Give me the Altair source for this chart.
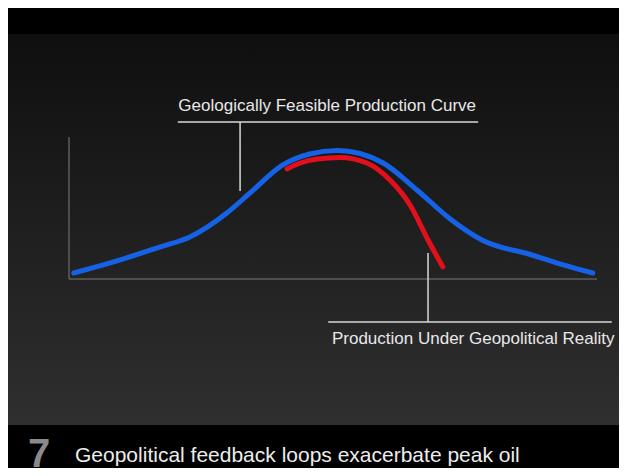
import altair as alt
import pandas as pd

# ---- data (time index 0-100 along the axis, production 0-100 up the axis) ----
blue_t = [0.9, 7.8, 17.2, 22.9, 29.9, 34.3, 40.5, 45.6, 50.8, 55.1, 59.5, 65.9, 72.2, 78.2, 87.7, 93.6, 99.2]
blue_p = [4.2, 11.3, 22.5, 29.6, 46.5, 60.6, 80.3, 88.0, 90.5, 88.4, 81.7, 62.7, 42.3, 27.5, 16.9, 9.9, 4.2]
red_t = [41.3, 43.8, 47.0, 51.3, 56.4, 60.8, 64.6, 68.0, 70.8]
red_p = [77.5, 81.7, 84.5, 85.6, 81.7, 69.7, 52.1, 27.5, 8.5]

label_texts = ["Geologically Feasible Production Curve", "Production Under Geopolitical Reality"]
label_t = [48.9, 49.8]
label_p = [118.3, -45.8]
label_align = ["center", "left"]

# leader lines: (t1, p1, t2, p2)
leader_t1 = [20.6, 32.4, 49.1, 68.0]
leader_t2 = [77.5, 32.4, 102.8, 68.0]
leader_p1 = [110.6, 110.6, -30.3, 18.3]
leader_p2 = [110.6, 62.0, -30.3, -30.3]

axis_t1 = [0, 0]
axis_t2 = [0, 100]
axis_p1 = [0, 0]
axis_p2 = [100, 0]

slide_number = "7"
caption = "Geopolitical feedback loops exacerbate peak oil"

W, H = 611, 460

xs = alt.Scale(domain=[-11.553, 104.167], nice=False, zero=False)
ys = alt.Scale(domain=[-133.1, 190.85], nice=False, zero=False)

blue_df = pd.DataFrame({"t": blue_t, "p": blue_p})
red_df = pd.DataFrame({"t": red_t, "p": red_p})
lab_df = pd.DataFrame({"t": label_t, "p": label_p, "text": label_texts, "align": label_align})
lead_df = pd.DataFrame({"t1": leader_t1, "t2": leader_t2, "p1": leader_p1, "p2": leader_p2})
axis_df = pd.DataFrame({"t1": axis_t1, "t2": axis_t2, "p1": axis_p1, "p2": axis_p2})
one = pd.DataFrame({"a": [0]})

bg = alt.Chart(one).mark_rect(
    color=alt.Gradient(
        gradient="linear",
        stops=[alt.GradientStop(color="#0f0f0f", offset=0),
               alt.GradientStop(color="#2f2f2f", offset=1)],
        x1=0, x2=0, y1=0, y2=1,
    )
).encode(x=alt.value(0), x2=alt.value(W), y=alt.value(26), y2=alt.value(417))

axes = alt.Chart(axis_df).mark_rule(color="#5e5e5e", strokeWidth=1.5).encode(
    x=alt.X("t1:Q", scale=xs, axis=None), x2="t2:Q",
    y=alt.Y("p1:Q", scale=ys, axis=None), y2="p2:Q",
)

leaders = alt.Chart(lead_df).mark_rule(color="#d8d8d8", strokeWidth=1.5).encode(
    x=alt.X("t1:Q", scale=xs, axis=None), x2="t2:Q",
    y=alt.Y("p1:Q", scale=ys, axis=None), y2="p2:Q",
)

blue = alt.Chart(blue_df).mark_line(
    color="#1662e6", strokeWidth=5, interpolate="monotone", strokeCap="round"
).encode(
    x=alt.X("t:Q", scale=xs, axis=None),
    y=alt.Y("p:Q", scale=ys, axis=None),
)

red = alt.Chart(red_df).mark_line(
    color="#e3101c", strokeWidth=5, interpolate="monotone", strokeCap="round"
).encode(
    x=alt.X("t:Q", scale=xs, axis=None),
    y=alt.Y("p:Q", scale=ys, axis=None),
)

lab_top = alt.Chart(lab_df.iloc[[0]]).mark_text(
    font="Liberation Sans", fontSize=17, color="#e8e8e8", align="center", baseline="alphabetic"
).encode(
    x=alt.X("t:Q", scale=xs, axis=None),
    y=alt.Y("p:Q", scale=ys, axis=None),
    text="text:N",
)
lab_bot = alt.Chart(lab_df.iloc[[1]]).mark_text(
    font="Liberation Sans", fontSize=17, color="#e8e8e8", align="left", baseline="alphabetic"
).encode(
    x=alt.X("t:Q", scale=xs, axis=None),
    y=alt.Y("p:Q", scale=ys, axis=None),
    text="text:N",
)

num = alt.Chart(pd.DataFrame({"text": [slide_number]})).mark_text(
    font="Liberation Sans", fontSize=40, fontWeight="bold", color="#8a8a8a",
    align="left", baseline="alphabetic"
).encode(x=alt.value(20), y=alt.value(459), text="text:N")

cap = alt.Chart(pd.DataFrame({"text": [caption]})).mark_text(
    font="Liberation Sans", fontSize=21, color="#ececec",
    align="left", baseline="alphabetic"
).encode(x=alt.value(67), y=alt.value(454), text="text:N")

chart = alt.layer(bg, axes, leaders, blue, red, lab_top, lab_bot, num, cap).properties(
    width=W, height=H, background="#000000", padding=0,
    autosize=alt.AutoSizeParams(type="none"),
).configure_view(stroke=None)

chart.save("out.html", embed_options={"renderer": "svg", "actions": False})
